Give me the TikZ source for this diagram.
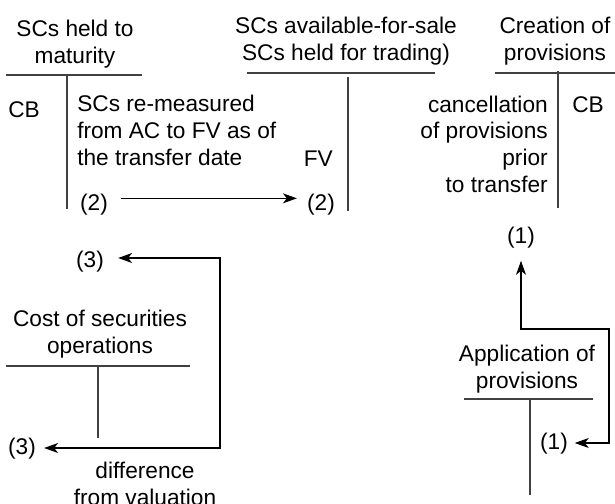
\documentclass[tikz,border=0pt]{standalone}
\usepackage{fontspec}
\setmainfont{Liberation Sans}
\usetikzlibrary{arrows.meta}

\tikzset{
  lbl/.style={inner sep=0pt, font=\fontsize{17}{20}\selectfont},
  tline/.style={draw=black!75, line width=0.8pt},
  arr/.style={line width=0.8pt, -{Stealth[length=10.5pt,width=7.5pt,inset=3pt]}},
  dblarr/.style={line width=0.8pt, {Stealth[length=10.5pt,width=7.5pt,inset=3pt]}-{Stealth[length=10.5pt,width=7.5pt,inset=3pt]}},
}

\begin{document}
\begin{tikzpicture}[x=0.75pt,y=-0.75pt]
        \useasboundingbox (0,0) rectangle (615,504);
        % account titles (base = last line)
        \node[lbl,align=center,anchor=base] (htm) at (75,63) {SCs held to\\maturity};
        \node[lbl,align=center,anchor=base] (afs) at (346,60) {SCs available-for-sale\\SCs held for trading)};
        \node[lbl,align=center,anchor=base] (cre) at (555,60) {Creation of\\provisions};
        \node[lbl,align=center,anchor=base] (cost) at (100,353) {Cost of securities\\operations};
        \node[lbl,align=center,anchor=base] (app) at (527,388) {Application of\\provisions};
        % T lines
        \draw[tline](6,75)--(142,75) (67,75)--(67,209);
        \draw[tline](247,73)--(435,73) (348,77)--(348,211);
        \draw[tline](495,73)--(615,73) (558,71)--(558,208);
        \draw[tline](6,366)--(190,366) (98,366)--(98,438);
        \draw[tline](464,399)--(593,399) (530,399)--(530,495);
        % entries
        \node[lbl,anchor=base west] (cbl) at (8,117) {CB};
        \node[lbl,align=left,anchor=base west] (remeas) at (77,165) {SCs re-measured\\from AC to FV as of\\the transfer date};
        \node[lbl,anchor=base east] (fv) at (333,166) {FV};
        \node[lbl,align=right,anchor=base east] (cancel) at (548,192) {cancellation\\of provisions\\prior\\to transfer};
        \node[lbl,anchor=base west] (cbr) at (572,112) {CB};
        \node[lbl,align=center,anchor=base] (diff) at (145,505) {difference\\from valuation};
        % numbers
        \node[lbl] (two1) at (94,205) {(2)};
        \node[lbl] (two2) at (321,205) {(2)};
        \node[lbl] (thr1) at (90,262) {(3)};
        \node[lbl] (thr2) at (22,449) {(3)};
        \node[lbl] (one1) at (521,238) {(1)};
        \node[lbl] (one2) at (554,444) {(1)};
        \coordinate (t3a) at (220,258);
        \coordinate (t3b) at (220,448);
        \coordinate (t1a) at (609,329);
        \coordinate (t1b) at (609,443);
        % transfers
        \draw[arr,shorten <=10pt,shorten >=7.5pt]([yshift=5pt]two1.east)--([yshift=5pt]two2.west);
        \draw[dblarr,shorten <=10.5pt,shorten >=6pt](thr1.east |- t3a)--(t3a)--(t3b)--(thr2.east |- t3b);
        \draw[dblarr,shorten <=9pt,shorten >=5pt](one1.south)--(one1.south |- t1a)--(t1a)--(t1b)--(one2.east |- t1b);
    \end{tikzpicture}
\end{document}
